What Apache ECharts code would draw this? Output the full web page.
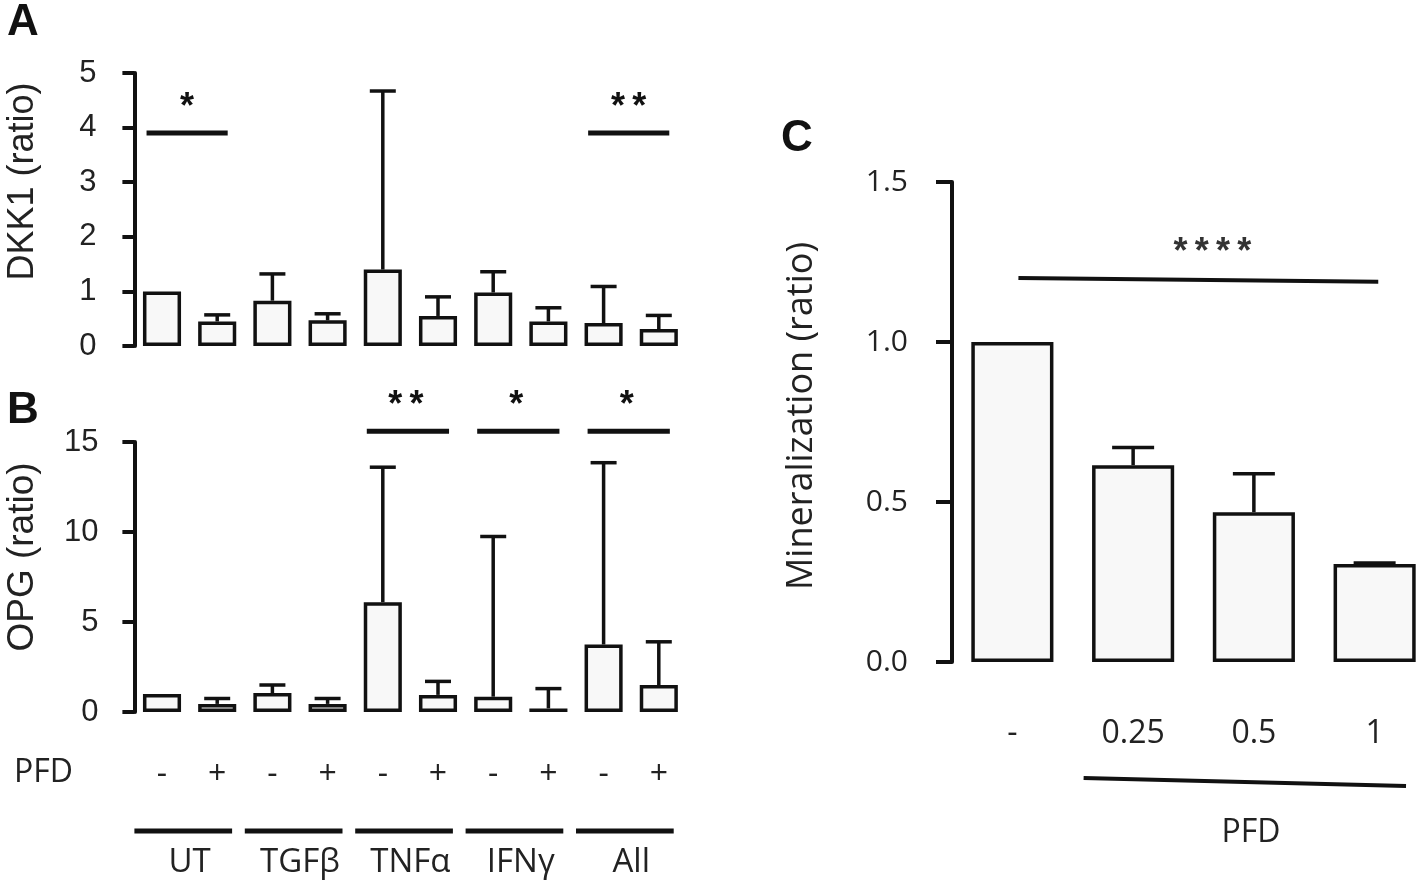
<!DOCTYPE html>
<html>
<head>
<meta charset="utf-8">
<script src="https://cdn.jsdelivr.net/npm/echarts@6/dist/echarts.min.js"></script>
<style>
html,body{margin:0;padding:0;background:#fff;}
#chart{width:1418px;height:887px;}
</style>
</head>
<body>
<div id="chart"></div>
<script>
// ---------- data ----------
const pfdSigns = ['-', '+', '-', '+', '-', '+', '-', '+', '-', '+'];
const groups = ['UT', 'TGFβ', 'TNFα', 'IFNγ', 'All'];
const groupSpans = [[0, 1], [2, 3], [4, 5], [6, 7], [8, 9]];

const dkk1Mean = [1.00, 0.45, 0.83, 0.47, 1.40, 0.55, 0.98, 0.45, 0.42, 0.31];
const dkk1Err  = [0.00, 0.12, 0.49, 0.12, 3.27, 0.35, 0.38, 0.25, 0.67, 0.25];
const dkk1Ticks = [0, 5, 1];
const dkk1Sig = [[0, 1, 3.9], [8, 9, 3.9]];
const dkk1SigText = ['*', '*\u2009*'];

const opgMean = [1.00, 0.45, 1.05, 0.45, 6.10, 0.95, 0.85, 0.20, 3.75, 1.50];
const opgErr  = [0.00, 0.30, 0.45, 0.30, 7.50, 0.75, 8.90, 1.10, 10.10, 2.40];
const opgTicks = [0, 15, 5];
const opgSig = [[4, 5, 15.6], [6, 7, 15.6], [8, 9, 15.6]];
const opgSigText = ['*\u2009*', '*', '*'];

const doseLabels = ['-', '0.25', '0.5', '1'];
const minMean = [1.00, 0.615, 0.468, 0.306];
const minErr  = [0.00, 0.055, 0.120, 0.003];
const minTicks = [0, 1.5, 0.5];
const minSig = [[0, 3, 1.20, 1.188]];
const minSigText = ['*\u2009*\u2009*\u2009*'];
const pfdDoseSpan = [[1, 3]];

// ---------- styles ----------
const INK = '#111';
const FILL = '#f8f8f8';
const SANS = 'Liberation Sans, Arial, sans-serif';
const ALT = 'Open Sans, Noto Sans, sans-serif';
const STAR_FONT = 'bold 36px Liberation Sans, Arial';

function errRender(cap) {
  return function (params, api) {
    const x = api.value(0), m = api.value(1), e = api.value(2);
    if (!e) return null;
    const p0 = api.coord([x, m]);
    const p1 = api.coord([x, m + e]);
    return {
      type: 'group',
      children: [
        {type: 'line', shape: {x1: p0[0], y1: p0[1], x2: p1[0], y2: p1[1]}, style: {stroke: INK, lineWidth: 3.5}},
        {type: 'line', shape: {x1: p1[0] - cap / 2, y1: p1[1], x2: p1[0] + cap / 2, y2: p1[1]}, style: {stroke: INK, lineWidth: 3.5}}
      ]
    };
  };
}

function sigRender(texts, padL, padR, lw, color, textDx) {
  return function (params, api) {
    const i = api.value(0), j = api.value(1), y = api.value(2);
    const y2v = api.value(3);
    const band = api.size([1, 0])[0];
    const a = api.coord([i, y]);
    const b = api.coord([j, isNaN(y2v) ? y : y2v]);
    const x1 = a[0] - padL * band, x2 = b[0] + padR * band;
    return {
      type: 'group',
      children: [
        {type: 'line', shape: {x1: x1, y1: a[1], x2: x2, y2: b[1]}, style: {stroke: INK, lineWidth: lw}},
        {type: 'text', x: (x1 + x2) / 2 + textDx, y: Math.min(a[1], b[1]) - 25,
         style: {text: texts[params.dataIndex], font: STAR_FONT, fill: color, align: 'center', verticalAlign: 'middle'}}
      ]
    };
  };
}

function yAxisBase(grid, ticks, name, nameGap, labelFont, labelSize, labelMargin, tickLen, fmt, nameFont, nameSize, nameShift) {
  return {
    type: 'value', gridIndex: grid, min: ticks[0], max: ticks[1], interval: ticks[2],
    splitLine: {show: false},
    axisLine: {show: true, lineStyle: {color: INK, width: 4}},
    axisTick: {show: true, inside: false, length: tickLen, lineStyle: {color: INK, width: 4}},
    axisLabel: {color: '#222', fontFamily: labelFont, fontSize: labelSize, margin: labelMargin, formatter: fmt},
    name: name, nameLocation: 'middle', nameRotate: 90, nameGap: nameGap,
    nameTextStyle: {color: '#222', fontFamily: nameFont, fontSize: nameSize, padding: [0, 0, 0, nameShift]}
  };
}

const option = {
  animation: false,
  backgroundColor: '#fff',
  grid: [
    {left: 134.4, top: 73, width: 552, height: 273, outerBoundsMode: 'none', containLabel: false},
    {left: 134.4, top: 442, width: 552, height: 270, outerBoundsMode: 'none', containLabel: false},
    {left: 952, top: 182, width: 483, height: 480, outerBoundsMode: 'none', containLabel: false}
  ],
  xAxis: [
    {type: 'category', gridIndex: 0, data: pfdSigns, axisLine: {show: false}, axisTick: {show: false}, axisLabel: {show: false}},
    {type: 'category', gridIndex: 1, data: pfdSigns, position: 'bottom', axisLine: {show: false}, axisTick: {show: false},
     axisLabel: {color: '#222', fontFamily: ALT, fontSize: 32, margin: 47}},
    {type: 'category', gridIndex: 1, data: groups, position: 'bottom', offset: 0, axisLine: {show: false}, axisTick: {show: false},
     axisLabel: {color: '#222', fontFamily: ALT, fontSize: 33, margin: 134}},
    {type: 'category', gridIndex: 2, data: doseLabels, axisLine: {show: false}, axisTick: {show: false},
     axisLabel: {color: '#222', fontFamily: ALT, fontSize: 32, margin: 56}}
  ],
  yAxis: [
    yAxisBase(0, dkk1Ticks, 'DKK1 (ratio)', 93, SANS, 31, 38, 12, null, SANS, 36, 56),
    yAxisBase(1, opgTicks, 'OPG (ratio)', 93, SANS, 31, 36, 12, null, SANS, 37, 40),
    yAxisBase(2, minTicks, 'Mineralization (ratio)', 132, ALT, 30, 44, 16, function (v) { return v.toFixed(1); }, ALT, 36, 12)
  ],
  graphic: [
    {type: 'text', left: 7, top: 1, style: {text: 'A', font: 'bold 44px Liberation Sans, Arial', fill: INK}},
    {type: 'text', left: 7, top: 389, style: {text: 'B', font: 'bold 44px Liberation Sans, Arial', fill: INK}},
    {type: 'text', left: 781, top: 117, style: {text: 'C', font: 'bold 44px Liberation Sans, Arial', fill: INK}},
    {type: 'text', left: 14, top: 757, style: {text: 'PFD', font: '32px Open Sans, Noto Sans', fill: '#222'}}
  ],
  series: [
    {type: 'bar', xAxisIndex: 0, yAxisIndex: 0, data: dkk1Mean, barWidth: '69%',
     itemStyle: {color: FILL, borderColor: INK, borderWidth: 3.5}, z: 2},
    {type: 'custom', xAxisIndex: 0, yAxisIndex: 0, clip: false, z: 3,
     data: dkk1Mean.map(function (m, i) { return [i, m, dkk1Err[i]]; }),
     encode: {x: 0, y: 1}, renderItem: errRender(26)},
    {type: 'custom', xAxisIndex: 0, yAxisIndex: 0, clip: false, z: 3,
     data: dkk1Sig, encode: {x: 0, y: 2}, renderItem: sigRender(dkk1SigText, 0.28, 0.19, 5, INK, 0)},

    {type: 'bar', xAxisIndex: 1, yAxisIndex: 1, data: opgMean, barWidth: '69%',
     itemStyle: {color: FILL, borderColor: INK, borderWidth: 3.5}, z: 2},
    {type: 'custom', xAxisIndex: 1, yAxisIndex: 1, clip: false, z: 3,
     data: opgMean.map(function (m, i) { return [i, m, opgErr[i]]; }),
     encode: {x: 0, y: 1}, renderItem: errRender(26)},
    {type: 'custom', xAxisIndex: 1, yAxisIndex: 1, clip: false, z: 3,
     data: opgSig, encode: {x: 0, y: 2}, renderItem: sigRender(opgSigText, 0.29, 0.2, 5, INK, -2)},
    {type: 'custom', xAxisIndex: 1, yAxisIndex: 1, clip: false, z: 3,
     data: groupSpans, encode: {x: 0},
     renderItem: function (params, api) {
       const a = api.coord([api.value(0), 0]);
       const b = api.coord([api.value(1), 0]);
       const band = api.size([1, 0])[0];
       return {type: 'line', shape: {x1: a[0] - 0.5 * band, y1: a[1] + 119, x2: b[0] + 0.27 * band, y2: a[1] + 119},
               style: {stroke: INK, lineWidth: 5}};
     }},

    {type: 'bar', xAxisIndex: 3, yAxisIndex: 2, data: minMean, barWidth: '68%',
     itemStyle: {color: FILL, borderColor: INK, borderWidth: 3.5}, z: 2},
    {type: 'custom', xAxisIndex: 3, yAxisIndex: 2, clip: false, z: 3,
     data: minMean.map(function (m, i) { return [i, m, minErr[i]]; }),
     encode: {x: 0, y: 1}, renderItem: errRender(42)},
    {type: 'custom', xAxisIndex: 3, yAxisIndex: 2, clip: false, z: 3,
     data: minSig, encode: {x: 0, y: 2}, renderItem: sigRender(minSigText, -0.05, 0.03, 4, '#333', 14)},
    {type: 'custom', xAxisIndex: 3, yAxisIndex: 2, clip: false, z: 3,
     data: pfdDoseSpan, encode: {x: 0},
     renderItem: function (params, api) {
       const a = api.coord([api.value(0), 0]);
       const b = api.coord([api.value(1), 0]);
       const band = api.size([1, 0])[0];
       const x1 = a[0] - 0.41 * band, x2 = b[0] + 0.26 * band;
       return {type: 'group', children: [
         {type: 'line', shape: {x1: x1, y1: a[1] + 116, x2: x2, y2: a[1] + 124}, style: {stroke: INK, lineWidth: 4}},
         {type: 'text', x: (a[0] + b[0]) / 2 - 3, y: a[1] + 171,
          style: {text: 'PFD', font: '32px Open Sans, Noto Sans', fill: '#222', align: 'center', verticalAlign: 'middle'}}
       ]};
     }}
  ]
};

const chart = echarts.init(document.getElementById('chart'), null, {renderer: 'canvas'});
chart.setOption(option);
</script>
</body>
</html>
